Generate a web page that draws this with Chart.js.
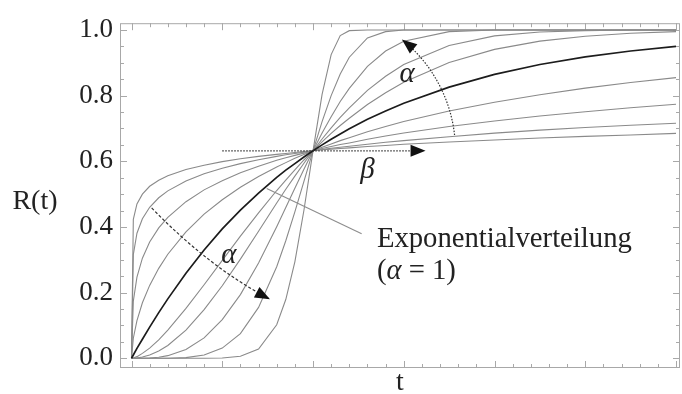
<!DOCTYPE html>
<html>
<head>
<meta charset="utf-8">
<script src="https://cdn.jsdelivr.net/npm/chart.js@4/dist/chart.umd.min.js"></script>
<style>
html,body{margin:0;padding:0;background:#fff;}
#c{display:block;}
</style>
</head>
<body>
<canvas id="c" width="682" height="394" style="width:682px;height:394px"></canvas>
<script>
// ---- data ----
const tValues = [0, 0.01, 0.03, 0.06, 0.1, 0.15, 0.2, 0.3, 0.4, 0.5, 0.6, 0.7, 0.8, 0.85, 0.9, 0.95, 1.0, 1.05, 1.1, 1.15, 1.2, 1.3, 1.4, 1.5, 1.75, 2.0, 2.25, 2.5, 2.75, 3.0];

const curveA013 = [0, 0.423, 0.470, 0.500, 0.524, 0.542, 0.556, 0.575, 0.588, 0.599, 0.608, 0.615, 0.621, 0.624, 0.627, 0.630, 0.632, 0.635, 0.637, 0.639, 0.641, 0.645, 0.648, 0.652, 0.659, 0.665, 0.671, 0.676, 0.680, 0.685];
const curveA021 = [0, 0.316, 0.381, 0.425, 0.460, 0.489, 0.510, 0.540, 0.562, 0.579, 0.593, 0.605, 0.615, 0.620, 0.624, 0.628, 0.632, 0.636, 0.640, 0.643, 0.646, 0.652, 0.658, 0.663, 0.675, 0.686, 0.695, 0.703, 0.710, 0.716];
const curveA036 = [0, 0.174, 0.247, 0.305, 0.354, 0.397, 0.429, 0.477, 0.513, 0.541, 0.565, 0.585, 0.603, 0.611, 0.618, 0.625, 0.632, 0.639, 0.645, 0.651, 0.656, 0.667, 0.677, 0.686, 0.706, 0.723, 0.738, 0.751, 0.763, 0.774];
const curveA060 = [0, 0.061, 0.115, 0.169, 0.222, 0.274, 0.317, 0.385, 0.439, 0.483, 0.521, 0.554, 0.583, 0.596, 0.609, 0.621, 0.632, 0.643, 0.653, 0.663, 0.672, 0.690, 0.706, 0.721, 0.753, 0.780, 0.803, 0.823, 0.840, 0.855];
const curveExp   = [0, 0.010, 0.030, 0.058, 0.095, 0.139, 0.181, 0.259, 0.330, 0.394, 0.451, 0.503, 0.551, 0.573, 0.593, 0.613, 0.632, 0.650, 0.667, 0.683, 0.699, 0.728, 0.753, 0.777, 0.826, 0.865, 0.895, 0.918, 0.936, 0.950];
const curveA150 = [0, 0.001, 0.005, 0.015, 0.031, 0.056, 0.086, 0.152, 0.224, 0.298, 0.372, 0.443, 0.511, 0.543, 0.574, 0.604, 0.632, 0.659, 0.685, 0.709, 0.731, 0.773, 0.809, 0.841, 0.901, 0.941, 0.966, 0.981, 0.990, 0.995];
const curveA200 = [0, 0.000, 0.001, 0.004, 0.010, 0.022, 0.039, 0.086, 0.148, 0.221, 0.302, 0.387, 0.473, 0.515, 0.555, 0.594, 0.632, 0.668, 0.702, 0.734, 0.763, 0.816, 0.859, 0.895, 0.953, 0.982, 0.994, 0.998, 1.000, 1.000];
const curveA300 = [0, 0, 0, 0, 0.001, 0.003, 0.008, 0.027, 0.062, 0.118, 0.194, 0.290, 0.401, 0.459, 0.518, 0.576, 0.632, 0.686, 0.736, 0.782, 0.822, 0.889, 0.936, 0.966, 0.995, 1.000, 1.000, 1.000, 1.000, 1.000];
const curveA500 = [0, 0, 0, 0, 0, 0, 0, 0.002, 0.010, 0.031, 0.075, 0.155, 0.279, 0.358, 0.446, 0.539, 0.632, 0.721, 0.800, 0.866, 0.917, 0.976, 0.995, 1.000, 1.000, 1.000, 1.000, 1.000, 1.000, 1.000];
const curveA1000 = [0, 0, 0, 0, 0, 0, 0, 0, 0, 0.001, 0.006, 0.028, 0.102, 0.179, 0.294, 0.451, 0.632, 0.804, 0.925, 0.983, 0.998, 1.000, 1.000, 1.000, 1.000, 1.000, 1.000, 1.000, 1.000, 1.000];

const grayCurves = [curveA013, curveA021, curveA036, curveA060, curveA150, curveA200, curveA300, curveA500, curveA1000];

const yTickValues = [0, 0.2, 0.4, 0.6, 0.8, 1.0];
const yMinorTickValues = [0.05,0.1,0.15,0.25,0.3,0.35,0.45,0.5,0.55,0.65,0.7,0.75,0.85,0.9,0.95];
const xMajorTickValues = [0, 0.5, 1.0, 1.5, 2.0, 2.5, 3.0];
const xMinorTickValues = [0.1,0.2,0.3,0.4,0.6,0.7,0.8,0.9,1.1,1.2,1.3,1.4,1.6,1.7,1.8,1.9,2.1,2.2,2.3,2.4,2.6,2.7,2.8,2.9];

const yAxisTitle = 'R(t)';
const xAxisTitle = 't';
const expLabelLine1 = 'Exponentialverteilung';
const crossingT = 1.0;
const crossingR = 0.632;

// ---- build datasets ----
const toPts = arr => arr.map((r, i) => ({x: tValues[i], y: r}));
const datasets = [{
  data: toPts(curveExp), borderColor: '#1c1c1c', borderWidth: 1.7, pointRadius: 0, tension: 0, fill: false
}].concat(grayCurves.map(c => ({
  data: toPts(c), borderColor: '#8a8a8a', borderWidth: 1.1, pointRadius: 0, tension: 0, fill: false
})));

const SERIF = '"Liberation Serif", "Times New Roman", serif';

function arrowHead(ctx, tx, ty, ang, len, wid) {
  ctx.beginPath();
  ctx.moveTo(tx, ty);
  ctx.lineTo(tx - len*Math.cos(ang) + wid/2*Math.sin(ang), ty - len*Math.sin(ang) - wid/2*Math.cos(ang));
  ctx.lineTo(tx - len*Math.cos(ang) - wid/2*Math.sin(ang), ty - len*Math.sin(ang) + wid/2*Math.cos(ang));
  ctx.closePath();
  ctx.fill();
}

const framePlugin = {
  id: 'frame',
  beforeDatasetsDraw(chart) {
    const {ctx, chartArea: a, scales: {x, y}} = chart;
    ctx.save();
    ctx.strokeStyle = '#a8a8a8';
    ctx.lineWidth = 1;
    ctx.strokeRect(a.left + 0.5, a.top + 0.5, a.right - a.left - 1, a.bottom - a.top - 1);
    const seg = (x1, y1, x2, y2) => { ctx.beginPath(); ctx.moveTo(x1, y1); ctx.lineTo(x2, y2); ctx.stroke(); };
    const xt = (vals, len) => vals.forEach(v => {
      const px = Math.round(x.getPixelForValue(v)) + 0.5;
      seg(px, a.bottom, px, a.bottom - len);
      seg(px, a.top, px, a.top + len);
    });
    const yt = (vals, len) => vals.forEach(v => {
      const py = Math.round(y.getPixelForValue(v)) + 0.5;
      seg(a.left, py, a.left + len, py);
      seg(a.right, py, a.right - len, py);
    });
    xt(xMajorTickValues, 7); xt(xMinorTickValues, 4);
    yt(yTickValues, 7); yt(yMinorTickValues, 4);
    ctx.restore();
  },
  afterDatasetsDraw(chart) {
    const {ctx, chartArea: a, scales: {x, y}} = chart;
    const P = (t, r) => ({x: x.getPixelForValue(t), y: y.getPixelForValue(r)});
    ctx.save();
    ctx.fillStyle = '#111';
    ctx.strokeStyle = '#333';
    ctx.lineWidth = 1.2;

    // beta arrow (horizontal, dotted)
    const b0 = P(0.5, crossingR), b1 = P(1.62, crossingR);
    ctx.setLineDash([1.5, 1.5]);
    ctx.beginPath(); ctx.moveTo(b0.x, b0.y); ctx.lineTo(b1.x - 12, b1.y); ctx.stroke();
    ctx.setLineDash([]);
    arrowHead(ctx, b1.x, b1.y, 0, 15, 12);

    // upper alpha arc (dotted, centred on the crossing point)
    const C = P(crossingT, crossingR);
    const S = P(1.78, 0.68), E = P(1.468, 0.956);
    const r = Math.hypot(S.x - C.x, S.y - C.y);
    const a0 = Math.atan2(S.y - C.y, S.x - C.x);
    const a1 = Math.atan2(E.y - C.y, E.x - C.x);
    ctx.setLineDash([1.5, 1.5]);
    ctx.beginPath(); ctx.arc(C.x, C.y, r, a0, a1 + 10 / r, true); ctx.stroke();
    ctx.setLineDash([]);
    arrowHead(ctx, C.x + r*Math.cos(a1), C.y + r*Math.sin(a1), a1 - Math.PI/2, 15, 12);

    // lower alpha arc (dashed)
    const L0 = P(0.111, 0.458), L1 = P(0.433, 0.275), L2 = P(0.763, 0.180);
    ctx.setLineDash([3, 2]);
    ctx.beginPath(); ctx.moveTo(L0.x, L0.y); ctx.quadraticCurveTo(L1.x, L1.y, L2.x, L2.y); ctx.stroke();
    ctx.setLineDash([]);
    arrowHead(ctx, L2.x, L2.y, Math.atan2(L2.y - L1.y, L2.x - L1.x), 15, 12);

    // leader line
    const k0 = P(0.745, 0.517), k1 = P(1.268, 0.379);
    ctx.strokeStyle = '#8d8d8d'; ctx.lineWidth = 1.1;
    ctx.beginPath(); ctx.moveTo(k0.x, k0.y); ctx.lineTo(k1.x, k1.y); ctx.stroke();

    // texts
    ctx.fillStyle = '#222';
    ctx.textBaseline = 'alphabetic';
    ctx.textAlign = 'left';
    ctx.font = '28.7px ' + SERIF;
    const e1 = P(1.352, 0.340);
    ctx.fillText(expLabelLine1, e1.x, e1.y);
    const e2 = P(1.352, 0.243);
    let cx = e2.x;
    ctx.fillText('(', cx, e2.y); cx += ctx.measureText('(').width;
    ctx.font = 'italic 28.7px ' + SERIF;
    ctx.fillText('\u03B1', cx, e2.y); cx += ctx.measureText('\u03B1').width;
    ctx.font = '28.7px ' + SERIF;
    ctx.fillText(' = 1)', cx, e2.y);

    ctx.textAlign = 'center';
    ctx.textBaseline = 'middle';
    ctx.font = 'italic 29px ' + SERIF;
    const pb = P(1.30, 0.571); ctx.fillText('\u03B2', pb.x, pb.y);
    const pa1 = P(1.518, 0.864); ctx.fillText('\u03B1', pa1.x, pa1.y);
    const pa2 = P(0.537, 0.314); ctx.fillText('\u03B1', pa2.x, pa2.y);

    // axis titles
    ctx.font = '28px ' + SERIF;
    ctx.fillText(yAxisTitle, 35, y.getPixelForValue(0.476));
    ctx.fillText(xAxisTitle, (a.left + a.right) / 2, a.bottom + 15);
    ctx.restore();
  }
};

new Chart(document.getElementById('c'), {
  type: 'line',
  data: {datasets},
  options: {
    responsive: false,
    animation: false,
    events: [],
    layout: {padding: {top: 13, right: 2, left: 0, bottom: 0}},
    plugins: {legend: {display: false}, tooltip: {enabled: false}},
    scales: {
      x: {
        type: 'linear', min: -0.0634, max: 3.022,
        grid: {display: false, drawTicks: false}, border: {display: false},
        ticks: {display: false},
        afterFit(s) { s.height = 26; }
      },
      y: {
        type: 'linear', min: -0.0296, max: 1.0207,
        grid: {display: false, drawTicks: false}, border: {display: false},
        afterBuildTicks(s) { s.ticks = yTickValues.map(v => ({value: v})); },
        ticks: {
          callback: v => Number(v).toFixed(1),
          font: {family: SERIF, size: 27},
          color: '#222', padding: 7
        },
        afterFit(s) { s.width = 120; }
      }
    }
  },
  plugins: [framePlugin]
});
</script>
</body>
</html>
